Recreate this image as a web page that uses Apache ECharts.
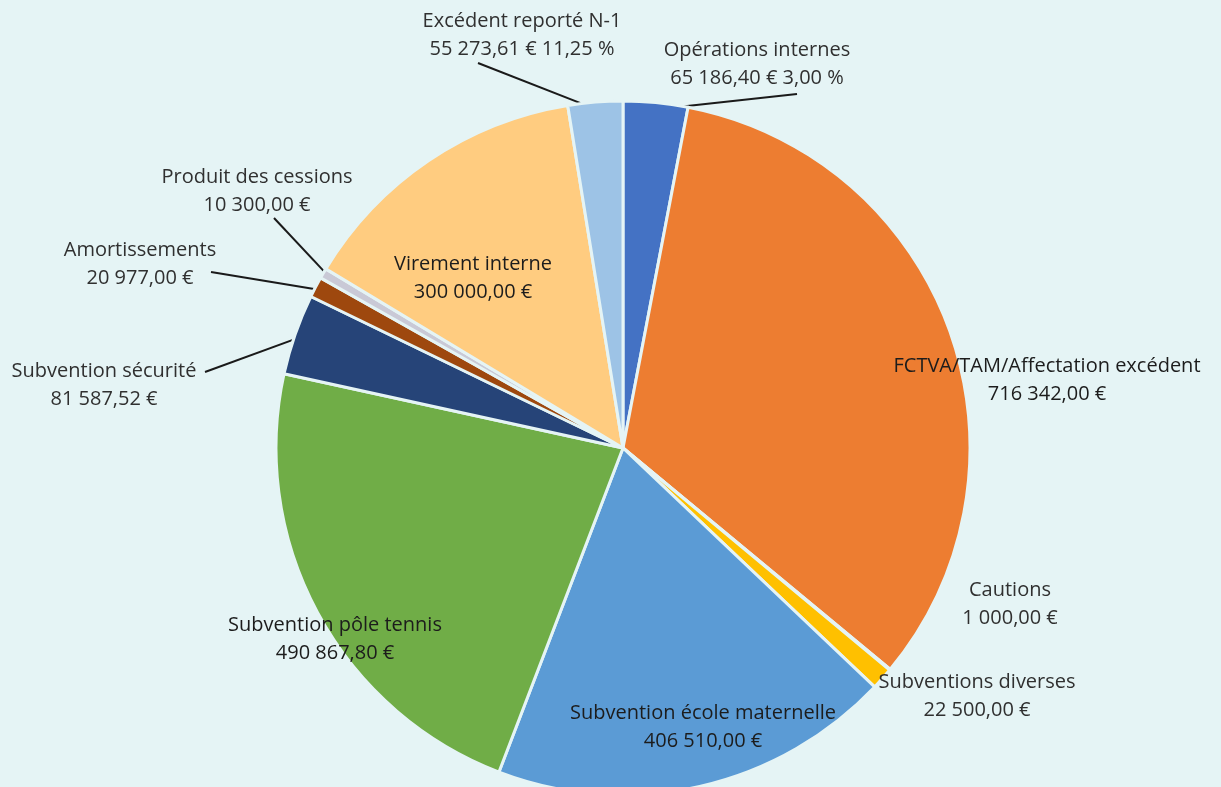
<!DOCTYPE html>
<html>
<head>
<meta charset="utf-8">
<script src="https://cdn.jsdelivr.net/npm/echarts@6/dist/echarts.min.js"></script>
<style>
	html, body { margin: 0; padding: 0; background: #E5F4F5; }
	#chart { width: 1221px; height: 787px; }
</style>
</head>
<body>
<div id="chart"></div>
<script>
	// valeurs, dans l'ordre horaire depuis midi
	const categories = [
		'Opérations internes',
		'FCTVA/TAM/Affectation excédent',
		'Cautions',
		'Subventions diverses',
		'Subvention école maternelle',
		'Subvention pôle tennis',
		'Subvention sécurité',
		'Amortissements',
		'Produit des cessions',
		'Virement interne',
		'Excédent reporté N-1'
	]
	const amounts = [65186.40, 716342.00, 1000.00, 22500.00, 406510.00, 490867.80, 81587.52, 20977.00, 10300.00, 300000.00, 55273.61]
	const percentNotes = ['3,00 %', '', '', '', '', '', '', '', '', '', '11,25 %']

	const sliceColors = ['#4472C4', '#ED7D31', '#A5A5A5', '#FFC000', '#5B9BD5', '#70AD47', '#264478', '#9E480E', '#C9C9D6', '#FFCC80', '#9DC3E6']
	const bgColor = '#E5F4F5'
	const pieCenter = [623, 448]
	const pieRadius = 347

	// centre du texte [x, y] et, si trait, bout du trait côté texte [x, y]
	const labelSpots = [
		[757, 64, 797, 94],
		[1047, 380],
		[1010, 604],
		[977, 696],
		[703, 727],
		[335, 639],
		[104, 385, 205, 372],
		[140, 264, 211, 272],
		[257, 191, 274, 218],
		[473, 278],
		[522, 35, 478, 63]
	]
	const insideText = [false, true, false, false, true, true, false, false, false, true, false]

	function euro(v) {
		const parts = v.toFixed(2).split('.')
		return parts[0].replace(/\B(?=(\d{3})+(?!\d))/g, ' ') + ',' + parts[1] + ' €'
	}

	const pieData = categories.map((name, i) => ({
		name: name,
		value: amounts[i],
		itemStyle: { color: sliceColors[i] },
		label: { color: insideText[i] ? '#1c1c1c' : '#303030' },
		labelLine: { show: labelSpots[i].length > 2 }
	}))

	const myChart = echarts.init(document.getElementById('chart'), null, { renderer: 'canvas' })
	myChart.setOption({
		backgroundColor: bgColor,
		animation: false,
		series: [{
			type: 'pie',
			center: pieCenter,
			radius: pieRadius,
			startAngle: 90,
			clockwise: true,
			avoidLabelOverlap: false,
			data: pieData,
			itemStyle: {
				borderColor: bgColor,
				borderWidth: 3
			},
			label: {
				show: true,
				position: 'outside',
				fontFamily: 'Open Sans',
				fontSize: 20,
				lineHeight: 28,
				formatter: (p) => {
					const note = percentNotes[p.dataIndex]
					return p.name + '\n' + euro(p.value) + (note ? ' ' + note : '')
				}
			},
			labelLine: {
				lineStyle: { color: '#1a1a1a', width: 2 }
			},
			labelLayout: (params) => {
				const s = labelSpots[params.dataIndex]
				const out = { x: s[0], y: s[1], align: 'center', verticalAlign: 'middle' }
				if (s.length > 2 && params.labelLinePoints) {
					const p0 = params.labelLinePoints[0]
					// le trait entre un peu dans la part
					const dx = pieCenter[0] - p0[0]
					const dy = pieCenter[1] - p0[1]
					const d = Math.sqrt(dx * dx + dy * dy)
					const start = [p0[0] + dx / d * 7, p0[1] + dy / d * 7]
					out.labelLinePoints = [start, [s[2], s[3]], [s[2], s[3]]]
				}
				return out
			}
		}]
	})
</script>
</body>
</html>
